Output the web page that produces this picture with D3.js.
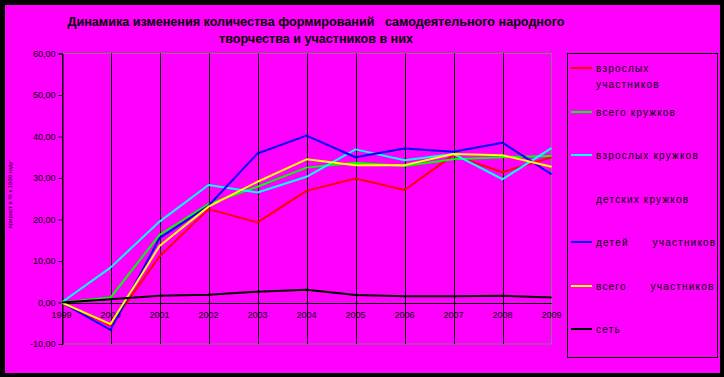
<!DOCTYPE html>
<html>
  <head>
    <meta charset="utf-8" />
    <script src="https://d3js.org/d3.v7.min.js"></script>
    <style>
      body { margin: 0; background: #000; }
      text { font-family: "Liberation Sans", Arial, sans-serif; }
    </style>
  </head>
  <body>
    <div id="chart"></div>
    <script>
      const years = ["1999", "2000", "2001", "2002", "2003", "2004", "2005", "2006", "2007", "2008", "2009"];
      const yTicks = [-10, 0, 10, 20, 30, 40, 50, 60];

      const adultMembers = [0, -5.5, 11.1, 22.5, 19.3, 26.9, 29.9, 27.1, 35.5, 31.4, 35.0];
      const allClubs = [0, 1.2, 16.3, 23.7, 27.9, 32.5, 33.7, 32.9, 34.5, 35.0, 35.3];
      const adultClubs = [0, 8.4, 19.5, 28.3, 26.5, 30.3, 36.9, 34.3, 35.8, 29.7, 37.2];
      const childMembers = [0, -6.6, 15.5, 23.3, 35.9, 40.2, 35.0, 37.1, 36.3, 38.5, 30.9];
      const allMembers = [0, -5.2, 13.6, 23.1, 29.1, 34.5, 33.1, 33.1, 35.8, 35.5, 32.7];
      const network = [0, 0.8, 1.6, 1.85, 2.6, 3.1, 1.8, 1.5, 1.5, 1.6, 1.2];

      const legendNames = [
        ["взрослых", "участников"],
        ["всего кружков"],
        ["взрослых кружков"],
        ["детских кружков"],
        ["детей      участников"],
        ["всего      участников"],
        ["сеть"],
      ];
      const legendColors = ["#ff0000", "#00ff00", "#00ffff", "#ff00ff", "#0000ff", "#ffff00", "#000000"];

      const series = [
        { values: adultMembers, color: "#ff0000" },
        { values: allClubs, color: "#00ff00" },
        { values: adultClubs, color: "#00ffff" },
        { values: childMembers, color: "#0000ff" },
        { values: allMembers, color: "#ffff00" },
        { values: network, color: "#000000" },
      ];

      const W = 724, H = 377;
      const plot = { left: 61.5, right: 551.5, top: 53.5, bottom: 344 };

      const svg = d3.select("#chart").append("svg")
        .attr("width", W).attr("height", H);

      svg.append("rect").attr("width", W).attr("height", H).attr("fill", "#000");
      svg.append("rect").attr("x", 5).attr("y", 5).attr("width", 715).attr("height", 368)
        .attr("fill", "#ff00ff");

      // title
      const title = svg.append("text").attr("text-anchor", "middle")
        .style("font-size", "12.6px").style("font-weight", "bold")
        .attr("xml:space", "preserve");
      title.append("tspan").attr("x", 316).attr("y", 26)
        .text("Динамика изменения количества формирований   самодеятельного народного");
      title.append("tspan").attr("x", 316).attr("y", 43).text("творчества и участников в них");

      const x = d3.scalePoint().domain(years).range([plot.left, plot.right]);
      const y = d3.scaleLinear().domain([-10, 60]).range([plot.bottom, plot.top]);

      // plot border (gray)
      svg.append("path")
        .attr("d", `M${plot.left},${plot.top}H${plot.right}V${plot.bottom}H${plot.left}`)
        .attr("fill", "none").attr("stroke", "#808080").attr("stroke-width", 1);

      // vertical grid lines
      svg.append("g").selectAll("line").data(years.slice(0, -1)).join("line")
        .attr("x1", (d) => Math.round(x(d)) + 0.5).attr("x2", (d) => Math.round(x(d)) + 0.5)
        .attr("y1", plot.top).attr("y2", plot.bottom)
        .attr("stroke", "#000").attr("stroke-width", 1);

      // y axis
      const fmt = (v) => d3.format(".2f")(v).replace(".", ",").replace("−", "-");
      const yAxis = svg.append("g").attr("transform", `translate(${Math.round(plot.left) + 0.5},0)`)
        .call(d3.axisLeft(y).tickValues(yTicks).tickSize(4).tickPadding(3).tickFormat(fmt));
      yAxis.select(".domain").attr("stroke", "#000");
      yAxis.selectAll("text").style("font-size", "9px").attr("fill", "#000");

      // zero line
      svg.append("line")
        .attr("x1", plot.left).attr("x2", plot.right)
        .attr("y1", Math.round(y(0)) + 0.5).attr("y2", Math.round(y(0)) + 0.5)
        .attr("stroke", "#000");

      // year labels
      svg.append("g").selectAll("text").data(years).join("text")
        .attr("x", (d) => x(d)).attr("y", y(0) + 15)
        .attr("text-anchor", "middle").style("font-size", "9px")
        .text((d) => d);

      // y axis title
      svg.append("text")
        .attr("transform", "translate(12,195) rotate(-90)")
        .attr("text-anchor", "middle").style("font-size", "6px")
        .text("прирост в % к 1999 году");

      // lines
      const line = d3.line().x((d, i) => x(years[i])).y((d) => y(d));
      svg.append("g").selectAll("path").data(series).join("path")
        .attr("d", (d) => line(d.values))
        .attr("fill", "none").attr("stroke", (d) => d.color)
        .attr("stroke-width", 2).attr("stroke-linejoin", "round");

      // legend
      svg.append("rect").attr("x", 567.5).attr("y", 53.5).attr("width", 150).attr("height", 304)
        .attr("fill", "none").attr("stroke", "#000");
      const legendY = [68, 112, 155, 199, 242, 286, 329];
      const lg = svg.append("g").selectAll("g").data(legendNames).join("g")
        .attr("transform", (d, i) => `translate(0,${legendY[i]})`);
      lg.append("line").attr("x1", 571).attr("x2", 592)
        .attr("stroke", (d, i) => legendColors[i]).attr("stroke-width", 2);
      lg.append("text").attr("x", 596).attr("y", 4)
        .style("font-size", "10px").style("letter-spacing", "1.2px")
        .attr("xml:space", "preserve")
        .selectAll("tspan").data((d) => d).join("tspan")
        .attr("x", 596).attr("dy", (d, i) => (i === 0 ? 0 : 16))
        .text((d) => d);
    </script>
  </body>
</html>
